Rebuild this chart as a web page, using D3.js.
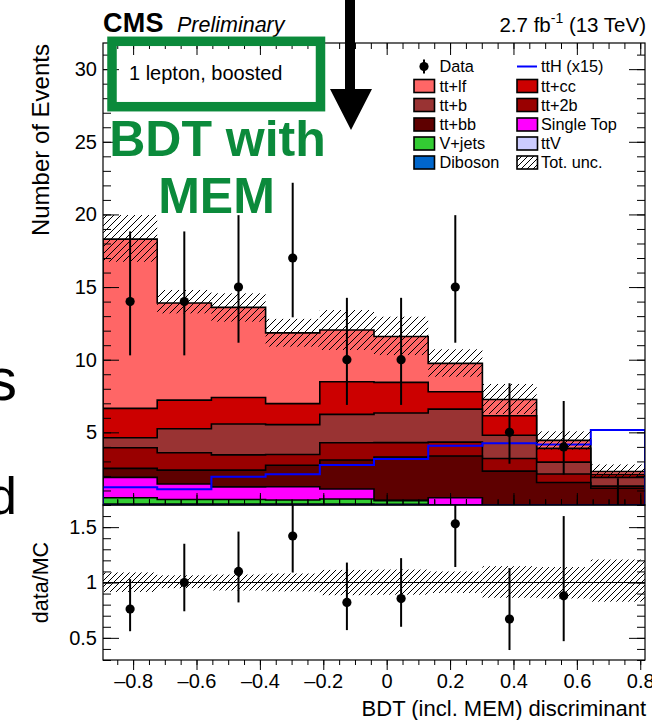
<!DOCTYPE html>
<html><head><meta charset="utf-8">
<script src="https://cdn.jsdelivr.net/npm/d3@7"></script>
<style>
body{margin:0;background:#fff}
svg{display:block}
text{font-family:"Liberation Sans",Arial,Helvetica,sans-serif}
</style>
</head><body>
<svg id="c" width="652" height="720"></svg>
<script>
// ---------------- data ----------------
const binEdges = [-0.895,-0.724,-0.553,-0.382,-0.211,-0.04,0.131,0.302,0.473,0.644,0.815];
const diboson   = [0.02,0.02,0.02,0.02,0.02,0.01,0.00,0.00,0.00,0.00];
const ttV       = [0.04,0.04,0.04,0.04,0.04,0.03,0.02,0.02,0.01,0.01];
const vjets     = [0.44,0.32,0.32,0.28,0.35,0.26,0.00,0.00,0.00,0.00];
const singleTop = [1.40,1.07,0.87,0.92,0.69,0.03,0.48,0.00,0.00,0.00];
const ttbb      = [0.62,0.95,1.15,1.48,2.00,2.97,2.87,2.31,1.54,1.14];
const tt2b      = [1.42,1.20,1.05,0.74,1.18,0.99,0.96,0.87,0.58,0.15];
const ttb       = [0.69,1.65,2.13,2.05,1.96,2.04,2.27,1.60,0.82,0.60];
const ttcc      = [2.02,1.97,1.82,1.45,2.24,2.11,1.19,1.34,0.95,0.20];
const ttlf      = [11.65,6.68,6.20,4.87,3.57,3.16,1.96,1.12,0.55,0.21];
const ttH15     = [1.22,1.08,1.95,2.12,2.75,3.17,4.08,4.25,4.16,5.16];
const uncUp     = [1.66,0.90,0.97,0.96,1.37,1.36,0.97,1.07,0.62,0.48];
const uncDown   = [1.56,0.71,0.98,0.95,1.38,1.28,0.92,1.00,0.64,0.40];
const dataCounts = [14,14,15,17,10,10,15,5,4,0];
const dataErrHi  = [4.83,4.83,4.95,5.18,4.26,4.26,4.95,3.38,3.16,1.84];
const dataErrLo  = [3.70,3.70,3.83,4.08,3.11,3.11,3.83,2.16,1.91,0.00];
const ratioVals  = [0.76,1.00,1.10,1.42,0.82,0.855,1.53,0.67,0.88,null];
const ratioHi    = [1.03,1.35,1.46,1.87,1.18,1.22,2.05,1.13,1.60,null];
const ratioLo    = [0.56,0.74,0.82,1.09,0.57,0.60,1.14,0.39,0.47,null];
const xTickLabels = [-0.8,-0.6,-0.4,-0.2,0,0.2,0.4,0.6,0.8];
const yTickLabels = [5,10,15,20,25,30];
const rTickLabels = [0.5,1,1.5];

const processes = [
  {key:"Diboson",    values:diboson,   color:"#0066cc"},
  {key:"ttV",        values:ttV,       color:"#ccccff"},
  {key:"V+jets",     values:vjets,     color:"#33cc33"},
  {key:"Single Top", values:singleTop, color:"#ff00ff"},
  {key:"tt+bb",      values:ttbb,      color:"#5e0000"},
  {key:"tt+2b",      values:tt2b,      color:"#990000"},
  {key:"tt+b",       values:ttb,       color:"#993333"},
  {key:"tt+cc",      values:ttcc,      color:"#cc0000"},
  {key:"tt+lf",      values:ttlf,      color:"#ff6666"}
];
const legendCol1 = ["Data","tt+lf","tt+b","tt+bb","V+jets","Diboson"];
const legendCol2 = ["ttH (x15)","tt+cc","tt+2b","Single Top","ttV","Tot. unc."];

// ---------------- layout ----------------
const L = 103, R = 645, T = 43, B = 505, RT = 505, RB = 660;
const svg = d3.select("#c");
const x  = d3.scaleLinear().domain([binEdges[0], binEdges[binEdges.length-1]]).range([L, R]);
const y  = d3.scaleLinear().domain([0, 31.8]).range([B, T]);
const yr = d3.scaleLinear().domain([0.3, 1.7]).range([RB, RT]);
const nb = dataCounts.length;
const green = "#0b8a3b";

const defs = svg.append("defs");
function hatch(id, s){
  defs.append("pattern").attr("id", id).attr("patternUnits","userSpaceOnUse")
    .attr("width", s).attr("height", s)
    .append("path").attr("d", `M-1,1 l2,-2 M0,${s} l${s},-${s} M${s-1},${s+1} l2,-2`)
    .attr("stroke","#000").attr("stroke-width",1);
}
hatch("hatchM", 7); hatch("hatchR", 6); hatch("hatchL", 6);
defs.append("clipPath").attr("id","clipM").append("rect").attr("x",L).attr("y",T).attr("width",R-L).attr("height",B-T);
defs.append("clipPath").attr("id","clipR").append("rect").attr("x",L).attr("y",RT).attr("width",R-L).attr("height",RB-RT);

// stack via d3
const table = d3.range(nb).map(i => { const o = {}; processes.forEach(p => o[p.key] = p.values[i]); return o; });
const series = d3.stack().keys(processes.map(p => p.key))(table);
const total = series[series.length-1].map(d => d[1]);

function stepPath(vals){
  let d = `M${x(binEdges[0])},${y(0)}`;
  vals.forEach((v,i) => { d += `L${x(binEdges[i])},${y(v)}L${x(binEdges[i+1])},${y(v)}`; });
  d += `L${x(binEdges[nb])},${y(0)}Z`;
  return d;
}

const gm = svg.append("g").attr("clip-path","url(#clipM)");
// draw cumulative histograms from top down (ROOT THStack style)
series.slice().reverse().forEach((s, k) => {
  const p = processes[series.length-1-k];
  gm.append("path").attr("d", stepPath(s.map(d => d[1])))
    .attr("fill", p.color).attr("stroke","#000").attr("stroke-width",1.6).attr("stroke-linejoin","miter");
});
// ttH x15 line
gm.append("path").attr("d", stepPath(ttH15)).attr("fill","none").attr("stroke","#0000ff").attr("stroke-width",2);
// uncertainty band
gm.selectAll("rect.unc").data(d3.range(nb)).join("rect")
  .attr("x", i => x(binEdges[i])).attr("width", i => x(binEdges[i+1]) - x(binEdges[i]))
  .attr("y", i => y(total[i] + uncUp[i])).attr("height", i => y(total[i] - uncDown[i]) - y(total[i] + uncUp[i]))
  .attr("fill","url(#hatchM)");
// data
const ctr = i => x((binEdges[i] + binEdges[i+1]) / 2);
gm.selectAll("line.err").data(d3.range(nb)).join("line")
  .attr("x1", ctr).attr("x2", ctr)
  .attr("y1", i => y(dataCounts[i] - dataErrLo[i])).attr("y2", i => y(dataCounts[i] + dataErrHi[i]))
  .attr("stroke","#000").attr("stroke-width",2);
gm.selectAll("circle.dat").data(d3.range(nb).filter(i => dataCounts[i] > 0)).join("circle")
  .attr("cx", ctr).attr("cy", i => y(dataCounts[i])).attr("r",4.6).attr("fill","#000");

// ratio pad
const gr = svg.append("g").attr("clip-path","url(#clipR)");
gr.selectAll("rect.runc").data(d3.range(nb)).join("rect")
  .attr("x", i => x(binEdges[i])).attr("width", i => x(binEdges[i+1]) - x(binEdges[i]))
  .attr("y", i => yr(1 + uncUp[i]/total[i])).attr("height", i => yr(1 - uncDown[i]/total[i]) - yr(1 + uncUp[i]/total[i]))
  .attr("fill","url(#hatchR)");
gr.append("line").attr("x1",L).attr("x2",R).attr("y1",yr(1)).attr("y2",yr(1)).attr("stroke","#000").attr("stroke-width",1);
const ri = d3.range(nb).filter(i => ratioVals[i] !== null);
gr.selectAll("line.rerr").data(ri).join("line")
  .attr("x1", ctr).attr("x2", ctr).attr("y1", i => yr(ratioLo[i])).attr("y2", i => yr(ratioHi[i]))
  .attr("stroke","#000").attr("stroke-width",2);
gr.selectAll("circle.rdat").data(ri).join("circle")
  .attr("cx", ctr).attr("cy", i => yr(ratioVals[i])).attr("r",4.6).attr("fill","#000");

// ---------------- axes ----------------
const fmtX = d => d === 0 ? "0" : (d < 0 ? "\u2013" : "") + Math.abs(d).toFixed(1);
const xMinor = d3.range(-0.85, 0.81, 0.05).map(v => +v.toFixed(2));
function ax(gen, tr, vals, size, fmt){
  const g = svg.append("g").attr("transform", tr)
    .call(gen.tickValues(vals).tickSizeInner(-size).tickSizeOuter(0).tickPadding(6).tickFormat(fmt || (() => "")));
  g.select(".domain").remove();
  g.selectAll(".tick line").attr("stroke","#000").attr("stroke-width",1);
  g.selectAll("text").attr("fill","#000").attr("font-size",20).attr("font-family",'"Liberation Sans",Arial,sans-serif');
  return g;
}
// main pad
ax(d3.axisLeft(y), `translate(${L},0)`, d3.range(0,32,1), 8);
ax(d3.axisLeft(y), `translate(${L},0)`, yTickLabels, 16, d => d);
ax(d3.axisRight(y), `translate(${R},0)`, d3.range(0,32,1), 8);
ax(d3.axisRight(y), `translate(${R},0)`, yTickLabels, 16);
ax(d3.axisBottom(x), `translate(0,${B})`, xMinor, 6);
ax(d3.axisBottom(x), `translate(0,${B})`, xTickLabels, 12);
ax(d3.axisTop(x), `translate(0,${T})`, xMinor, 6);
ax(d3.axisTop(x), `translate(0,${T})`, xTickLabels, 12);
// ratio pad
const rMinor = d3.range(0.3, 1.71, 0.1).map(v => +v.toFixed(1));
ax(d3.axisLeft(yr), `translate(${L},0)`, rMinor, 8);
ax(d3.axisLeft(yr), `translate(${L},0)`, rTickLabels, 16, d => d);
ax(d3.axisRight(yr), `translate(${R},0)`, rMinor, 8);
ax(d3.axisRight(yr), `translate(${R},0)`, rTickLabels, 16);
ax(d3.axisTop(x), `translate(0,${RB})`, xMinor, 5);
const gxl = ax(d3.axisTop(x), `translate(0,${RB})`, xTickLabels, 10, fmtX);
gxl.selectAll("text").attr("dy", null).attr("y", 28);
ax(d3.axisBottom(x), `translate(0,${RT})`, xMinor, 5);
ax(d3.axisBottom(x), `translate(0,${RT})`, xTickLabels, 10);

// frames
svg.append("rect").attr("x",L).attr("y",T).attr("width",R-L).attr("height",B-T).attr("fill","none").attr("stroke","#000").attr("stroke-width",1.2);
svg.append("rect").attr("x",L).attr("y",RT).attr("width",R-L).attr("height",RB-RT).attr("fill","none").attr("stroke","#000").attr("stroke-width",1.2);

// axis titles
svg.append("text").attr("transform","translate(49,44) rotate(-90)").attr("text-anchor","end")
  .attr("font-size",24).text("Number of Events");
svg.append("text").attr("transform",`translate(48,${yr(1)}) rotate(-90)`).attr("text-anchor","middle")
  .attr("font-size",21.5).text("data/MC");
svg.append("text").attr("x",646).attr("y",716).attr("text-anchor","end").attr("font-size",22)
  .text("BDT (incl. MEM) discriminant");

// header
svg.append("text").attr("x",103).attr("y",32).attr("font-size",27).attr("font-weight","bold").attr("letter-spacing",0.3).text("CMS");
svg.append("text").attr("x",177).attr("y",32).attr("font-size",21.5).attr("font-style","italic").text("Preliminary");
const lum = svg.append("text").attr("x",646).attr("y",32).attr("text-anchor","end").attr("font-size",20.5);
lum.append("tspan").text("2.7 fb");
lum.append("tspan").attr("dy",-9).attr("font-size",14).text("-1");
lum.append("tspan").attr("dy",9).text(" (13 TeV)");

// legend
const rowY = [66.5,86,105,124.5,143.5,162.5];
const colBox = [414, 517], colText = [439.5, 541];
const colorOf = k => { const p = processes.find(q => q.key === k); return p ? p.color : null; };
[legendCol1, legendCol2].forEach((col, c) => {
  col.forEach((name, r) => {
    const cy = rowY[r], bx = colBox[c];
    if (name === "Data") {
      svg.append("line").attr("x1",bx+10).attr("x2",bx+10).attr("y1",cy-7).attr("y2",cy+7).attr("stroke","#000").attr("stroke-width",2);
      svg.append("circle").attr("cx",bx+10).attr("cy",cy).attr("r",4.6).attr("fill","#000");
    } else if (name === "ttH (x15)") {
      svg.append("line").attr("x1",bx).attr("x2",bx+20).attr("y1",cy).attr("y2",cy).attr("stroke","#0000ff").attr("stroke-width",2);
    } else {
      const fill = name === "Tot. unc." ? "url(#hatchL)" : colorOf(name);
      if (name === "Tot. unc.") svg.append("rect").attr("x",bx).attr("y",cy-6.5).attr("width",20.5).attr("height",13).attr("fill","#fff");
      svg.append("rect").attr("x",bx).attr("y",cy-6.5).attr("width",20.5).attr("height",13)
        .attr("fill",fill).attr("stroke","#000").attr("stroke-width",1.6);
    }
    svg.append("text").attr("x",colText[c]).attr("y",cy+5.8).attr("font-size",16.3).text(name);
  });
});

// plot label + slide annotations
svg.append("text").attr("x",129).attr("y",80).attr("font-size",20).text("1 lepton, boosted");
svg.append("rect").attr("x",112).attr("y",41.3).attr("width",208.5).attr("height",65.4)
  .attr("fill","none").attr("stroke",green).attr("stroke-width",9.5);
svg.append("text").attr("x",217.5).attr("y",156).attr("text-anchor","middle").attr("font-size",50)
  .attr("font-weight","bold").attr("fill",green).text("BDT with");
svg.append("text").attr("x",216.5).attr("y",213).attr("text-anchor","middle").attr("font-size",50)
  .attr("font-weight","bold").attr("fill",green).text("MEM");
svg.append("path").attr("d","M345,0L355,0L355,89L372,89L351,130L330,89L345,89Z").attr("fill","#000");
svg.append("text").attr("x",17).attr("y",400).attr("text-anchor","end").attr("font-size",60)
  .attr("font-family","Lato").attr("font-weight",300).text("s");
svg.append("text").attr("x",17).attr("y",514).attr("text-anchor","end").attr("font-size",52)
  .attr("font-family","Lato").attr("font-weight",300).text("d");
</script>
</body></html>
